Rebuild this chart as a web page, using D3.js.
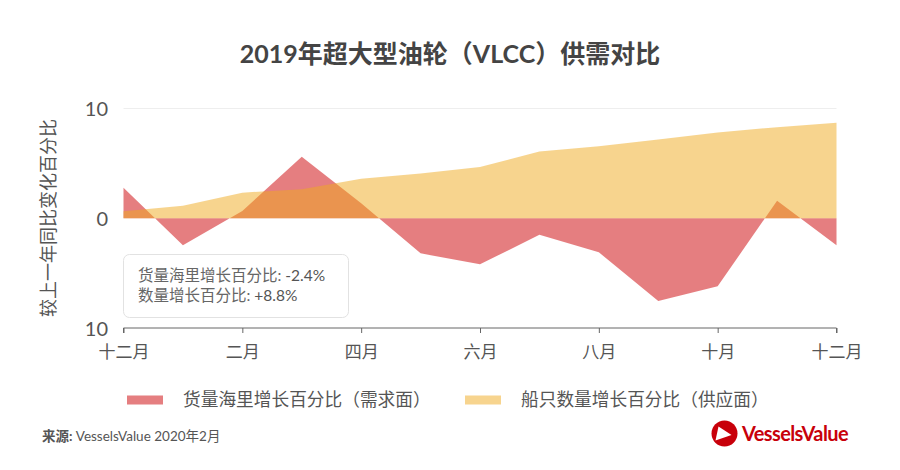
<!DOCTYPE html>
<html><head><meta charset="utf-8">
<script src="https://cdnjs.cloudflare.com/ajax/libs/d3/7.8.5/d3.min.js"></script>
<style>
html,body{margin:0;padding:0;background:#fff}
svg{display:block}
text{font-family:"Lato","Noto Sans CJK SC",sans-serif;fill:#555}
</style></head><body><svg id="c" width="900" height="470"></svg>
<script>
const periods = d3.range(13);
const tickLabels = ["十二月","二月","四月","六月","八月","十月","十二月"];
const demand = [2.77,-2.47,0.67,5.6,1.37,-3.2,-4.2,-1.5,-3.1,-7.55,-6.2,1.6,-2.45];
const supply = [0.64,1.13,2.33,2.65,3.6,4.07,4.68,6.08,6.57,7.18,7.82,8.3,8.7];
const yTicks = [10,0,-10];
const title = "2019年超大型油轮（VLCC）供需对比";
const yTitle = "较上一年同比变化百分比";
const legendLabels = ["货量海里增长百分比（需求面）","船只数量增长百分比（供应面）"];
const tipLines = [["货量海里增长百分比: ","-2.4%"],["数量增长百分比: ","+8.8%"]];
const demandColor="#d4282b", supplyColor="#efa91d";

const svg=d3.select("#c");
const x=d3.scaleLinear().domain([0,12]).range([123.5,836.5]);
const y=d3.scaleLinear().domain([-10,10]).range([328,108.5]);

svg.append("text").attr("x",450).attr("y",63).attr("text-anchor","middle")
  .style("font-size","25px").style("font-weight",700).style("fill","#444").text(title);

svg.append("line").attr("x1",x(0)).attr("x2",x(12)).attr("y1",y(10)).attr("y2",y(10)).attr("stroke","#eee").attr("stroke-width",1);

const area=vals=>d3.area().x((d,i)=>x(i)).y0(y(0)).y1(d=>y(d))(vals);
svg.append("path").attr("d",area(demand)).attr("fill",demandColor).attr("fill-opacity",.6);
svg.append("path").attr("d",area(supply)).attr("fill",supplyColor).attr("fill-opacity",.5);

const xAxis=d3.axisBottom(x).tickValues(d3.range(0,13,2)).tickSize(5).tickFormat((d,i)=>tickLabels[i]);
const gx=svg.append("g").attr("transform",`translate(0,${y(-10)})`).call(xAxis);
gx.selectAll("path,line").attr("stroke","#666");
gx.select(".domain").attr("d",`M${x(0)},5V0H${x(12)}V5`);
gx.selectAll("text").attr("y",30).attr("dy",0).style("font-size","17px").style("font-family","'Lato','Noto Sans CJK SC'").attr("fill","#555");

const yAxis=d3.axisLeft(y).tickValues(yTicks).tickSize(0).tickFormat(d=>Math.abs(d));
const gy=svg.append("g").attr("transform","translate(108,0)").call(yAxis);
gy.select(".domain").remove();
gy.selectAll("text").attr("x",0).attr("dy",".35em").style("font-size","20px").style("font-family","'Lato','Noto Sans CJK SC'");

svg.append("text").attr("transform","translate(55,218) rotate(-90)").attr("text-anchor","middle")
  .style("font-size","18px").text(yTitle);

svg.append("rect").attr("x",123.5).attr("y",254.5).attr("width",225).attr("height",63).attr("rx",6)
  .attr("fill","#fff").attr("fill-opacity",.8).attr("stroke","#e2e2e2");
tipLines.forEach((l,i)=>{
  const t=svg.append("text").attr("x",138).attr("y",281+i*19.5).style("font-size","15.5px");
  t.append("tspan").style("fill","#666").text(l[0]);
  t.append("tspan").style("fill","#555").text(l[1]);
});

legendLabels.forEach((l,i)=>{
  const lx=[127,465][i];
  svg.append("rect").attr("x",lx).attr("y",395.5).attr("width",36).attr("height",9)
    .attr("fill",i?supplyColor:demandColor).attr("fill-opacity",i?.5:.6);
  svg.append("text").attr("x",lx+56).attr("y",406).style("font-size","17.7px").text(l);
});

const s=svg.append("text").attr("x",42).attr("y",441).style("font-size","13.5px");
s.append("tspan").style("font-weight",700).text("来源: ");
s.append("tspan").text("VesselsValue 2020年2月");

const logo=svg.append("g").attr("transform","translate(724.5,433.5)");
logo.append("circle").attr("r",13).attr("fill","#c8000a");
logo.append("path").attr("d","M-6,-7L7,1.5L-9,7Z").attr("fill","#fff");
svg.append("text").attr("x",742).attr("y",441).style("font-size","20px").style("font-weight",700)
  .style("letter-spacing","-.6px").style("fill","#c8000a").text("VesselsValue");
</script></body></html>
